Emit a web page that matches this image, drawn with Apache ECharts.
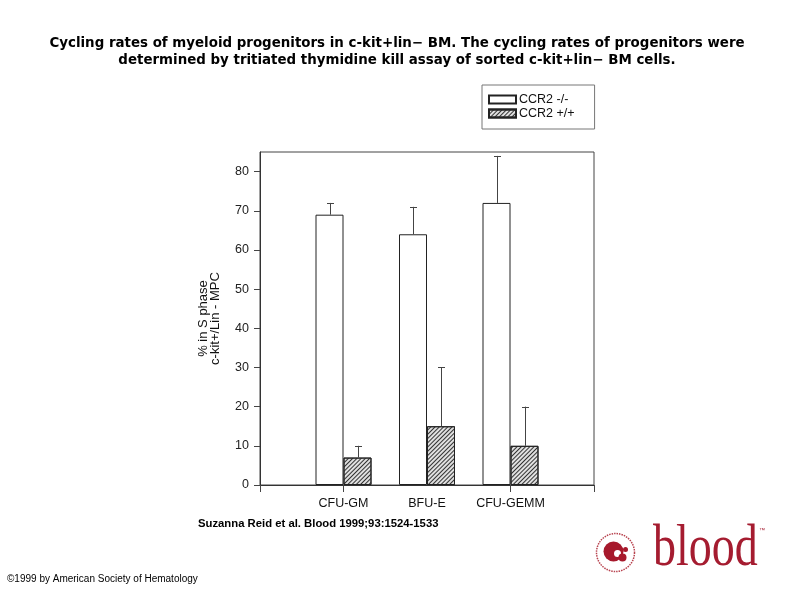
<!DOCTYPE html>
<html>
<head>
<meta charset="utf-8">
<script src="https://cdn.jsdelivr.net/npm/echarts@6/dist/echarts.min.js"></script>
<style>html,body{margin:0;padding:0;background:#fff;}#c{width:794px;height:595px;}</style>
</head>
<body>
<div id="c"></div>
<script>
const categories = ['CFU-GM', 'BFU-E', 'CFU-GEMM'];
const seriesNames = ['CCR2 -/-', 'CCR2 +/+'];
const ccr2KO = [69, 64, 72];
const ccr2KOErrTop = [72, 71, 84];
const ccr2WT = [7, 15, 10];
const ccr2WTErrTop = [10, 30, 20];
const yTicks = [0, 10, 20, 30, 40, 50, 60, 70, 80];
const titleLines = [
  'Cycling rates of myeloid progenitors in c-kit+lin\u2212 BM. The cycling rates of progenitors were',
  'determined by tritiated thymidine kill assay of sorted c-kit+lin\u2212 BM cells.'
];

const xData = [''].concat(categories, ['']);
const pad = v => ['-'].concat(v, ['-']);
const BW = 28;

function errData(vals, tops) {
  return vals.map((v, i) => [i + 1, v, tops[i]]);
}
function errSeries(vals, tops, off) {
  return {
    type: 'custom',
    silent: true,
    z: 5,
    data: errData(vals, tops),
    renderItem: function (params, api) {
      const p = api.coord([api.value(0), api.value(1)]);
      const t = api.coord([api.value(0), api.value(2)]);
      const x = Math.round(p[0] + off) + 0.5;
      return {
        type: 'group',
        children: [
          { type: 'line', shape: { x1: x, y1: p[1], x2: x, y2: t[1] }, style: { stroke: '#444', lineWidth: 1 } },
          { type: 'line', shape: { x1: x - 3.5, y1: Math.round(t[1]) + 0.5, x2: x + 3.5, y2: Math.round(t[1]) + 0.5 }, style: { stroke: '#444', lineWidth: 1 } }
        ]
      };
    }
  };
}

const chart = echarts.init(document.getElementById('c'), null, { renderer: 'canvas' });
chart.setOption({
  backgroundColor: '#fff',
  animation: false,
  textStyle: { fontFamily: 'Liberation Sans' },
  legend: {
    data: seriesNames.map(n => ({ name: n, icon: 'rect' })),
    orient: 'vertical',
    left: 482,
    top: 85,
    padding: [8, 20, 9, 6],
    itemGap: 1,
    itemWidth: 27,
    itemHeight: 8,
    borderColor: '#777',
    borderWidth: 1,
    borderRadius: 0,
    textStyle: { fontSize: 12.5, color: '#111', padding: [0, 0, 0, -2] }
  },
  grid: { left: 260, top: 152, width: 334, height: 333, show: true, borderColor: '#444', borderWidth: 1, backgroundColor: 'transparent' },
  xAxis: {
    type: 'category',
    data: xData,
    boundaryGap: false,
    axisLine: { lineStyle: { color: '#333' } },
    axisTick: { show: true, length: 7, lineStyle: { color: '#444' }, interval: function (i) { return i !== 2; } },
    axisLabel: { fontSize: 12.5, color: '#111', margin: 12, interval: 0 },
    splitLine: { show: false }
  },
  yAxis: {
    type: 'value',
    min: 0,
    max: 85,
    interval: 10,
    name: '% in S phase\nc-kit+/Lin - MPC',
    nameLocation: 'middle',
    nameRotate: 90,
    nameGap: 39,
    nameTextStyle: { fontSize: 13, color: '#111', lineHeight: 12 },
    axisLine: { show: true, lineStyle: { color: '#333' } },
    axisTick: { show: true, length: 6, lineStyle: { color: '#444' }, customValues: yTicks },
    axisLabel: { fontSize: 12.5, color: '#222', margin: 11, customValues: yTicks },
    splitLine: { show: false }
  },
  series: [
    {
      name: seriesNames[0],
      type: 'bar',
      data: pad(ccr2KO),
      barWidth: BW,
      barGap: '0%',
      itemStyle: { color: '#fff', borderColor: '#222', borderWidth: 1 }
    },
    {
      name: seriesNames[1],
      type: 'bar',
      data: pad(ccr2WT),
      barWidth: BW,
      barGap: '0%',
      itemStyle: {
        color: '#e0e0e0', borderColor: '#222', borderWidth: 1,
        decal: { symbol: 'rect', symbolSize: 1, dashArrayX: [1, 0], dashArrayY: [1, 2], rotation: -Math.PI / 4, color: '#333' }
      }
    },
    errSeries(ccr2KO, ccr2KOErrTop, -BW / 2),
    errSeries(ccr2WT, ccr2WTErrTop, BW / 2)
  ],
  graphic: [
    { type: 'text', x: 397, y: 37, style: { text: titleLines[0], font: 'bold 13.4px "DejaVu Sans"', fill: '#000', align: 'center' } },
    { type: 'text', x: 397, y: 54, style: { text: titleLines[1], font: 'bold 13.4px "DejaVu Sans"', fill: '#000', align: 'center' } },
    { type: 'text', left: 198, top: 518, style: { text: 'Suzanna Reid et al. Blood 1999;93:1524-1533', font: 'bold 11.3px "Liberation Sans"', fill: '#000' } },
    { type: 'text', left: 7, top: 574, style: { text: '\u00a91999 by American Society of Hematology', font: '10px "Liberation Sans"', fill: '#000' } },
    {
      type: 'group', left: 594, top: 531,
      children: [
        { type: 'circle', shape: { cx: 20, cy: 20, r: 19 }, style: { fill: 'none', stroke: '#b8434f', lineWidth: 1.5, lineDash: [1.5, 1] } },
        { type: 'circle', shape: { cx: 18, cy: 19, r: 10 }, style: { fill: '#a7192c' } },
        { type: 'circle', shape: { cx: 22, cy: 21, r: 3.5 }, style: { fill: '#fff' } },
        { type: 'circle', shape: { cx: 27, cy: 25, r: 4 }, style: { fill: '#a7192c' } },
        { type: 'circle', shape: { cx: 30, cy: 17, r: 2.5 }, style: { fill: '#a7192c' } }
      ]
    },
    { type: 'text', x: 653, y: 549, scaleY: 1.3, style: { text: 'blood', font: '46px "Liberation Serif"', fill: '#a51c30', verticalAlign: 'middle' } },
    { type: 'text', x: 759, y: 527, style: { text: '\u2122', font: '6px "Liberation Sans"', fill: '#a51c30' } }
  ]
});
</script>
</body>
</html>
